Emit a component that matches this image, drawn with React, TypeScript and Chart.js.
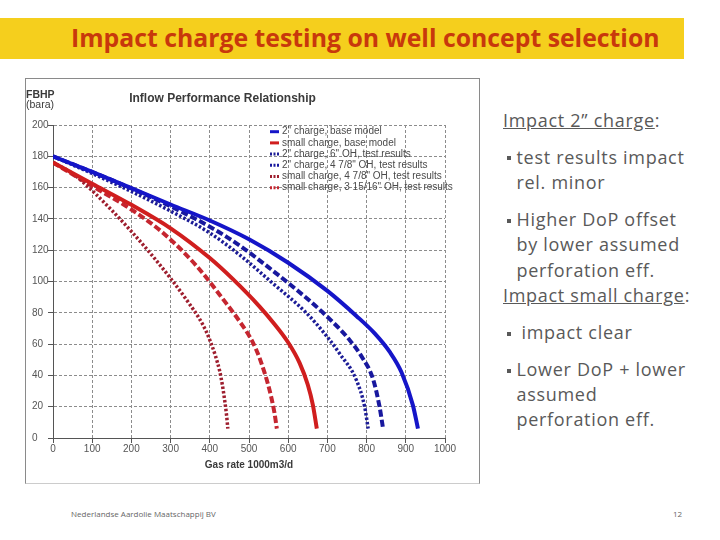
import React, { useEffect, useRef } from "react";
import { Chart, registerables } from "chart.js";

Chart.register(...registerables);

// ---- Data (Gas rate 1000 m3/d vs FBHP bara) ----
const base2X = [0, 100, 200, 300, 400, 500, 600, 700, 774, 820, 859, 889, 918, 931];
const base2Y = [180, 170, 159.7, 149.2, 139, 127, 112, 94, 78, 67, 55, 42, 21, 6];

const smallBaseX = [0, 100, 200, 300, 400, 459, 527, 561, 600, 629, 650, 663, 673];
const smallBaseY = [176, 162.5, 149, 134, 115, 101.5, 84, 74, 61, 48, 34, 21, 6];

const test2_6X = [0, 100, 200, 300, 400, 476, 560, 646, 700, 731, 774, 795, 804];
const test2_6Y = [180, 169, 157.5, 145, 131, 117, 99, 80, 64.5, 54, 37, 20, 6];

const test2_478X = [0, 100, 200, 300, 400, 476, 550, 620, 689, 757, 790, 816, 833, 842];
const test2_478Y = [180, 170, 159.5, 148, 135, 123, 109, 95, 80, 62.5, 51, 38, 20, 6];

const testSmall_478X = [0, 50, 100, 150, 200, 255, 300, 350, 374, 390, 404, 415, 425, 432, 438, 443, 446];
const testSmall_478Y = [176, 169, 158, 145.5, 132, 116, 102, 85, 76, 68.5, 60, 52, 43, 34, 24, 14, 6];

const testSmall_31516X = [0, 100, 200, 281, 366, 442, 476, 510, 530, 553, 565, 571];
const testSmall_31516Y = [176, 161, 146, 131, 110, 86, 74.5, 61, 49, 30, 16, 6];

const seriesLabels = [
  '2" charge, base model',
  "small charge, base model",
  '2" charge, 6" OH, test results',
  '2" charge, 4 7/8" OH, test results',
  'small charge, 4 7/8" OH, test results',
  'small charge, 3 15/16" OH, test results',
];

const chartTitle = "Inflow Performance Relationship";
const yTitle1 = "FBHP";
const yTitle2 = "(bara)";
const xTitle = "Gas rate 1000m3/d";

const pageTitle = "Impact charge testing on well concept selection";
const footerText = "Nederlandse Aardolie Maatschappij BV";
const pageNumber = "12";

const toPts = (xs: number[], ys: number[]) => xs.map((x, i) => ({ x, y: ys[i] }));

const FONT = '"Liberation Sans", Arial, sans-serif';

const overlayPlugin = {
  id: "overlayText",
  afterDraw(chart: any) {
    const ctx = chart.ctx as CanvasRenderingContext2D;
    const area = chart.chartArea;
    ctx.save();
    ctx.fillStyle = "#3a3a3a";
    ctx.textBaseline = "middle";
    ctx.font = `bold 12px ${FONT}`;
    ctx.textAlign = "center";
    ctx.fillText(chartTitle, 197.5, 20.5);
    ctx.font = `bold 10.5px ${FONT}`;
    ctx.textAlign = "left";
    ctx.fillText(yTitle1, 1, 17.5);
    ctx.font = `10.5px ${FONT}`;
    ctx.fillText(yTitle2, 1, 27);
    ctx.font = `bold 10px ${FONT}`;
    ctx.textAlign = "center";
    ctx.fillText(xTitle, (area.left + area.right) / 2, 387);

    // legend inside plot
    const lx = area.left + 217;
    const ly = area.top + 6.7;
    ctx.font = `10px ${FONT}`;
    ctx.textAlign = "left";
    chart.data.datasets.forEach((ds: any, i: number) => {
      const y = ly + i * 11.2;
      ctx.save();
      ctx.strokeStyle = ds.borderColor;
      ctx.lineWidth = 3;
      ctx.setLineDash(ds.borderDash && ds.borderDash.length ? [2, 1.5] : []);
      ctx.beginPath();
      ctx.moveTo(lx, y);
      ctx.lineTo(lx + 9, y);
      ctx.stroke();
      ctx.restore();
      ctx.fillStyle = "#4a4a4a";
      ctx.fillText(ds.label, lx + 12, y);
    });
    ctx.restore();
  },
};

function IprChart() {
  const ref = useRef<HTMLCanvasElement | null>(null);
  useEffect(() => {
    if (!ref.current) return;
    const mk = (i: number, xs: number[], ys: number[], color: string, width: number, dash: number[]) => ({
      label: seriesLabels[i],
      data: toPts(xs, ys),
      borderColor: color,
      backgroundColor: color,
      borderWidth: width,
      borderDash: dash,
      pointRadius: 0,
      fill: false,
      cubicInterpolationMode: "monotone" as const,
    });
    const chart = new Chart(ref.current, {
      type: "line",
      data: {
        datasets: [
          mk(0, base2X, base2Y, "#1515c8", 4, []),
          mk(1, smallBaseX, smallBaseY, "#d01e1e", 4, []),
          mk(2, test2_6X, test2_6Y, "#1c1c96", 3.5, [2.5, 2]),
          mk(3, test2_478X, test2_478Y, "#18189e", 4, [7, 3]),
          mk(4, testSmall_478X, testSmall_478Y, "#9e1e2e", 3.5, [2.5, 2]),
          mk(5, testSmall_31516X, testSmall_31516Y, "#c52630", 4, [7, 3]),
        ],
      },
      options: {
        animation: false,
        responsive: false,
        devicePixelRatio: 1,
        layout: { padding: { left: 7, top: 47, right: 34, bottom: 0 } },
        plugins: {
          legend: { display: false },
          title: { display: false },
          tooltip: { enabled: false },
        },
        scales: {
          x: {
            type: "linear",
            min: 0,
            max: 1000,
            afterFit: (s: any) => {
              s.height = 45;
            },
            ticks: {
              stepSize: 100,
              autoSkip: false,
              maxRotation: 0,
              padding: 0,
              color: "#555",
              font: { family: FONT, size: 10 },
              callback: (v: any) => String(v),
            },
            grid: {
              color: "#8c8c8c",
              lineWidth: 1,
              tickLength: 5,
              tickColor: "#555",
            },
            border: { display: true, color: "#555", width: 1, dash: [3, 2] },
          },
          y: {
            type: "linear",
            min: 0,
            max: 200,
            afterFit: (s: any) => {
              s.width = 21;
            },
            ticks: {
              stepSize: 20,
              autoSkip: false,
              crossAlign: "far",
              padding: 4,
              color: "#555",
              font: { family: FONT, size: 10 },
              callback: (v: any) => String(v),
            },
            grid: {
              color: "#8c8c8c",
              lineWidth: 1,
              tickLength: 5,
              tickColor: "#555",
            },
            border: { display: true, color: "#555", width: 1, dash: [3, 2] },
          },
        },
      },
      plugins: [overlayPlugin],
    });
    return () => chart.destroy();
  }, []);
  return (
    <canvas
      ref={ref}
      width={454}
      height={405}
      style={{ position: "absolute", left: 25, top: 78, width: 454, height: 405 }}
    />
  );
}

const textFont = '"Open Sans", "Noto Sans", sans-serif';
const textColor = "#595959";

type Line = { y: number; text: string; kind: "head" | "bullet" | "cont"; x?: number };
const rightLines: Line[] = [
  { y: 120, text: "Impact 2” charge", kind: "head" },
  { y: 157, text: "test results impact", kind: "bullet" },
  { y: 182, text: "rel. minor", kind: "cont" },
  { y: 219.5, text: "Higher DoP offset", kind: "bullet" },
  { y: 244.5, text: "by lower assumed", kind: "cont" },
  { y: 270, text: "perforation eff.", kind: "cont" },
  { y: 295.5, text: "Impact small charge", kind: "head" },
  { y: 332.5, text: "impact clear", kind: "bullet", x: 521.5 },
  { y: 369.5, text: "Lower DoP + lower", kind: "bullet" },
  { y: 394.5, text: "assumed", kind: "cont" },
  { y: 419.5, text: "perforation eff.", kind: "cont" },
];

export default function App() {
  return (
    <div
      style={{
        position: "absolute",
        left: 0,
        top: 0,
        width: 720,
        height: 540,
        background: "#ffffff",
        overflow: "hidden",
      }}
    >
      <div
        style={{
          position: "absolute",
          left: 0,
          top: 18,
          width: 684,
          height: 41,
          background: "#f5cf1d",
        }}
      />
      <div
        style={{
          position: "absolute",
          left: 71,
          top: 17,
          height: 41,
          lineHeight: "41px",
          fontFamily: textFont,
          fontWeight: 700,
          fontSize: 24.8,
          color: "#c8380c",
          whiteSpace: "nowrap",
        }}
      >
        {pageTitle}
      </div>

      <IprChart />
      <div
        style={{
          position: "absolute",
          left: 25,
          top: 78,
          width: 455,
          height: 406,
          boxSizing: "border-box",
          borderLeft: "1px solid #8a8a8a",
          borderTop: "1px solid #8a8a8a",
          borderRight: "1px solid #8a8a8a",
          borderBottom: "1px solid #cccccc",
          pointerEvents: "none",
        }}
      />

      {rightLines.map((l, i) => (
        <React.Fragment key={i}>
          {l.kind === "bullet" && (
            <div
              style={{
                position: "absolute",
                left: 507,
                top: l.y - 1,
                width: 4,
                height: 4,
                background: textColor,
              }}
            />
          )}
          <div
            style={{
              position: "absolute",
              left: l.x ?? (l.kind === "head" ? 503 : 516.5),
              top: l.y - 12.5,
              height: 25,
              lineHeight: "25px",
              fontFamily: textFont,
              fontSize: 18,
              letterSpacing: 0.7,
              color: textColor,
              whiteSpace: "nowrap",
            }}
          >
            {l.kind === "head" ? (
              <>
                <span style={{ textDecoration: "underline" }}>{l.text}</span>:
              </>
            ) : (
              l.text
            )}
          </div>
        </React.Fragment>
      ))}

      <div
        style={{
          position: "absolute",
          left: 71,
          top: 508,
          lineHeight: "12px",
          fontFamily: textFont,
          fontSize: 8,
          color: "#666",
          whiteSpace: "nowrap",
        }}
      >
        {footerText}
      </div>
      <div
        style={{
          position: "absolute",
          left: 673,
          top: 508,
          lineHeight: "12px",
          fontFamily: textFont,
          fontSize: 8,
          color: "#666",
        }}
      >
        {pageNumber}
      </div>
    </div>
  );
}
